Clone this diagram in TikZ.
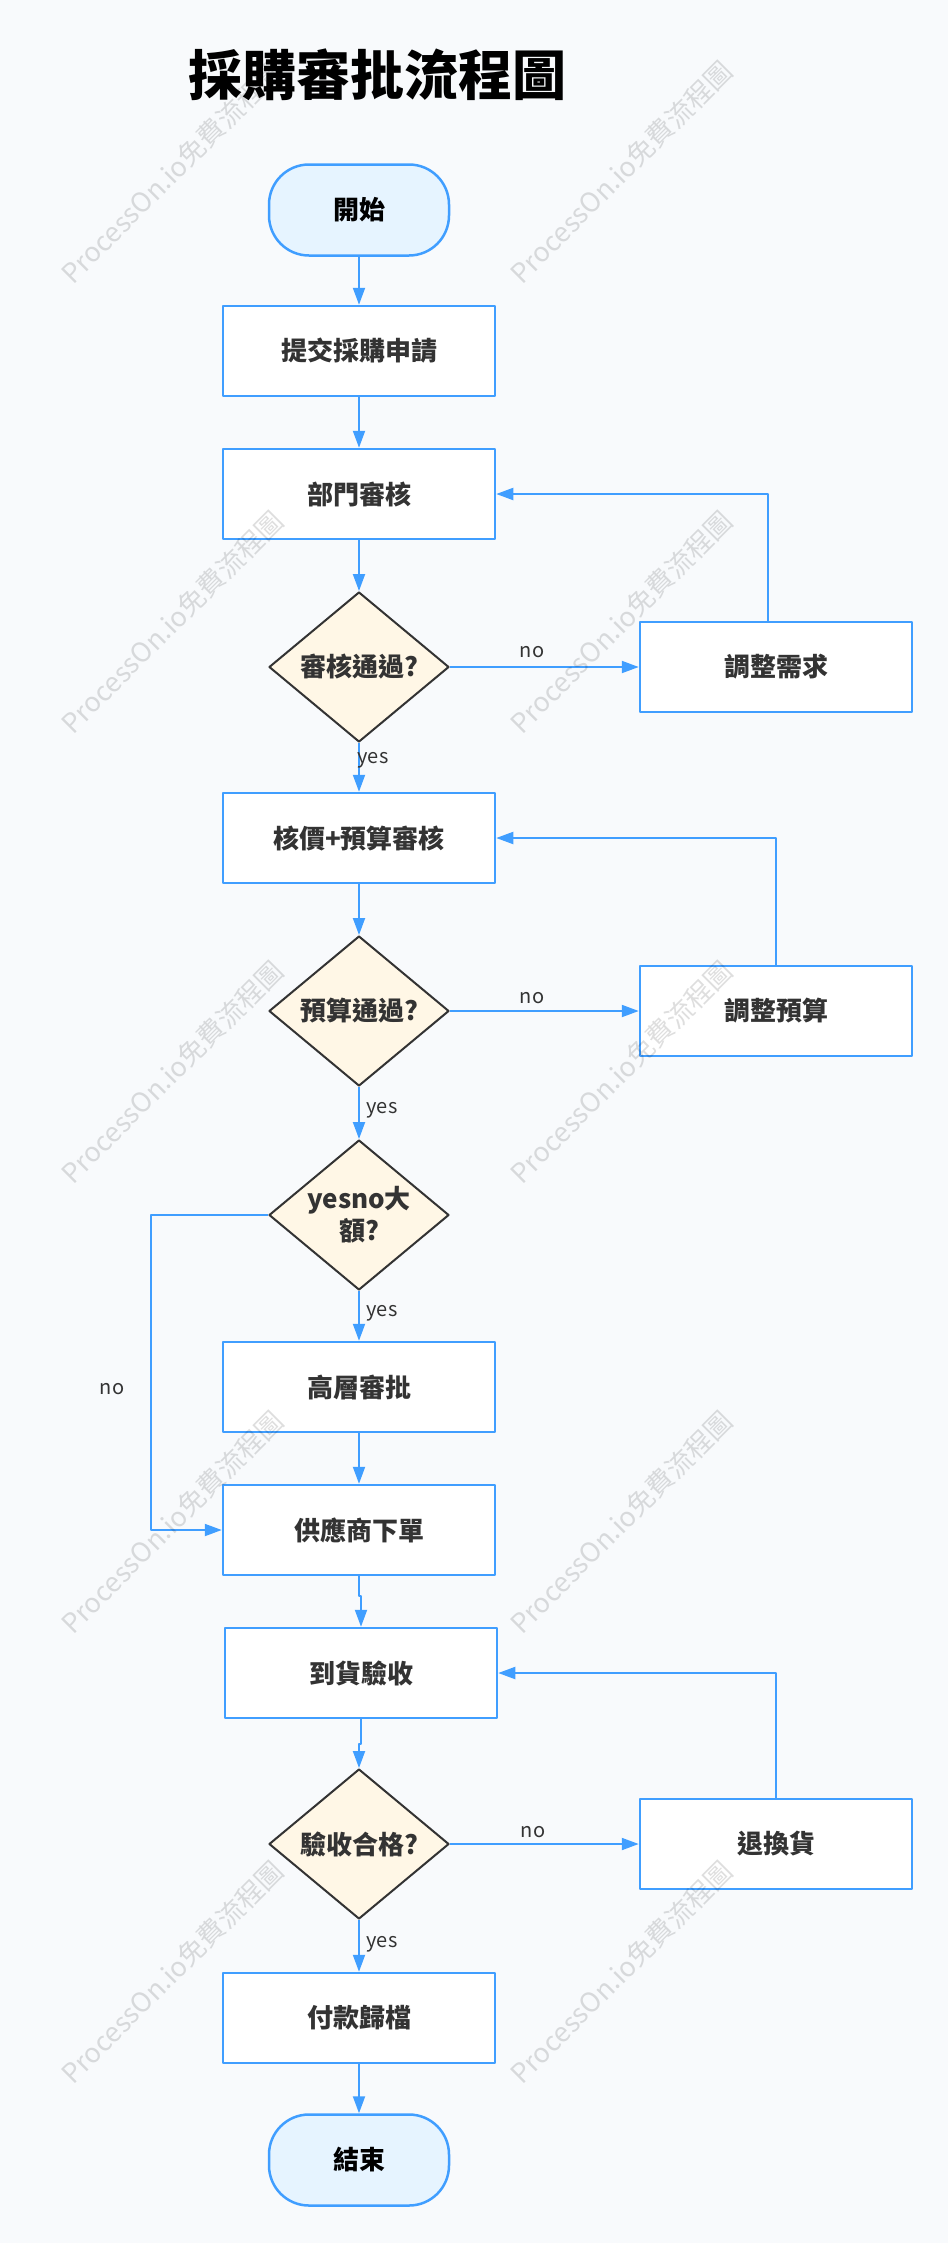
\documentclass[tikz,border=0pt]{standalone}
\usepackage{fontspec}
\setmainfont{Noto Sans CJK TC}
\usetikzlibrary{shapes.geometric,arrows.meta}
\definecolor{flowblue}{HTML}{409EFF}
\definecolor{pagebg}{HTML}{F8FAFC}
\definecolor{pillfill}{HTML}{E6F4FF}
\definecolor{decfill}{HTML}{FFF7E6}
\definecolor{txtgray}{HTML}{333333}

\begin{document}
\begin{tikzpicture}[x=1pt, y=-1pt, line join=round,
  flow/.style={draw=flowblue, line width=2pt, -{Triangle[length=17pt,width=12pt]}},
  stepbox/.style={rectangle, draw=flowblue, line width=2.5pt, fill=white, minimum width=272pt, minimum height=90pt, text=txtgray, font=\fontsize{26}{30}\selectfont\bfseries},
  pill/.style={rectangle, rounded corners=40pt, draw=flowblue, line width=2.5pt, fill=pillfill, minimum width=180pt, minimum height=91pt, text=black, font=\fontsize{26}{30}\selectfont\bfseries},
  decision/.style={diamond, shape aspect=1.2, draw=txtgray, line width=2pt, fill=decfill, minimum width=180pt, minimum height=150pt, inner sep=0pt, align=center, text=txtgray, font=\fontsize{26}{32}\selectfont\bfseries},
  lbl/.style={font=\fontsize{20}{24}\selectfont, text=txtgray, inner sep=0pt},
  wmark/.style={font=\fontsize{27}{30}\selectfont, text=black, text opacity=0.13, rotate=45, inner sep=0pt}]
\useasboundingbox (0,0) rectangle (948,2243);
\fill[pagebg] (0,0) rectangle (948,2243);
\node[font=\fontsize{54}{60}\selectfont\bfseries] (title) at (377,75) {採購審批流程圖};
\node[pill] (start) at (359,210) {開始};
\node[stepbox] (submit) at (359,351) {提交採購申請};
\node[stepbox] (dept) at (359,494) {部門審核};
\node[decision] (deptok) at (359,667) {審核通過?};
\node[stepbox] (adjreq) at (776,667) {調整需求};
\node[stepbox] (budget) at (359,838) {核價+預算審核};
\node[decision] (budgetok) at (359,1011) {預算通過?};
\node[stepbox] (adjbudget) at (776,1011) {調整預算};
\node[decision] (large) at (359,1215) {yesno大\\額?};
\node[stepbox] (senior) at (359,1387) {高層審批};
\node[stepbox] (order) at (359,1530) {供應商下單};
\node[stepbox] (recv) at (361,1673) {到貨驗收};
\node[decision] (qc) at (359,1844) {驗收合格?};
\node[stepbox] (ret) at (776,1844) {退換貨};
\node[stepbox] (pay) at (359,2018) {付款歸檔};
\node[pill] (finish) at (359,2160) {結束};
\draw[flow] (start) -- (submit);
\draw[flow] (submit) -- (dept);
\draw[flow] (dept) -- (deptok);
\draw[flow] (deptok) -- (adjreq);
\draw[flow] (deptok) -- (budget);
\draw[flow] ([xshift=-8pt]adjreq.north) |- (dept.east);
\draw[flow] (budget) -- (budgetok);
\draw[flow] (budgetok) -- (adjbudget);
\draw[flow] (adjbudget.north) |- (budget.east);
\draw[flow] (budgetok) -- (large);
\draw[flow] (large) -- (senior);
\draw[flow] (large.west) -- ++(-117,0) |- (order.west);
\draw[flow] (senior) -- (order);
\draw[flow] (order.south) -- ++(0,20) -| (recv.north);
\draw[flow] (recv.south) -- ++(0,25) -| (qc.north);
\draw[flow] (qc) -- (ret);
\draw[flow] (ret.north) |- (recv.east);
\draw[flow] (qc) -- (pay);
\draw[flow] (pay) -- (finish);
\node[lbl] (yes1) at (373,760) {yes};
\node[lbl] (no1) at (532,652) {no};
\node[lbl] (yes2) at (382,1110) {yes};
\node[lbl] (no2) at (532,998) {no};
\node[lbl] (yes3) at (382,1313) {yes};
\node[lbl] (no3) at (112,1389) {no};
\node[lbl] (yes4) at (382,1944) {yes};
\node[lbl] (no4) at (533,1832) {no};
\foreach \wy in {172,622,1072,1522,1972}{
  \node[wmark] at (172,\wy) {ProcessOn.io免費流程圖};
  \node[wmark] at (621,\wy) {ProcessOn.io免費流程圖};
}
\end{tikzpicture}
\end{document}
